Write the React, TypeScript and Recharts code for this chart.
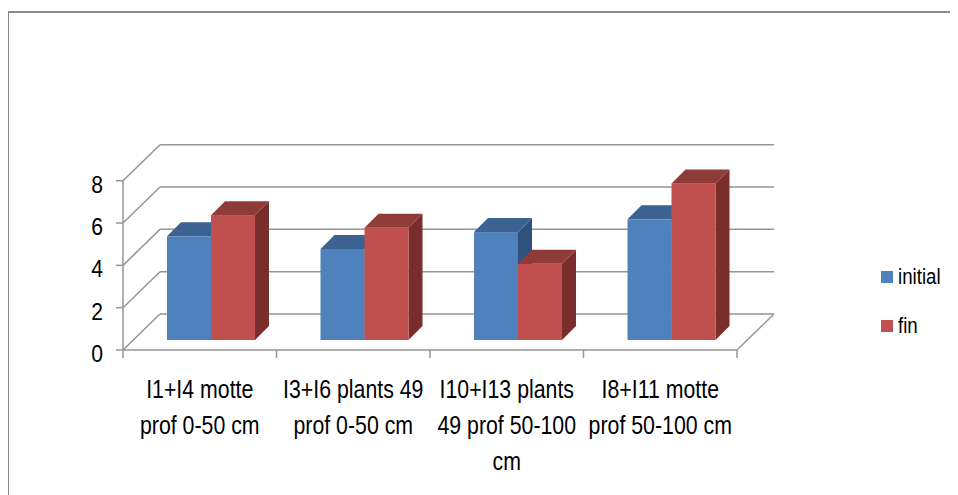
import React from 'react';
import { BarChart, Bar, XAxis, YAxis, CartesianGrid } from 'recharts';

const categories = [
  'I1+I4 motte prof 0-50 cm',
  'I3+I6 plants 49 prof 0-50 cm',
  'I10+I13 plants 49 prof 50-100 cm',
  'I8+I11 motte prof 50-100 cm',
];
const initialValues = [4.9, 4.3, 5.1, 5.7];
const finValues = [5.9, 5.3, 3.6, 7.4];
const yTicks = [0, 2, 4, 6, 8];
const seriesNames = ['initial', 'fin'];

const data = categories.map((name, i) => ({ name, initial: initialValues[i], fin: finValues[i] }));

// no narrow face installed, so the regular one is squeezed horizontally
const FONT = '"Liberation Sans", Arial, sans-serif';
const NARROW = 0.82;
const GRID = '#959595';

// chart box; the plot area is the front plane of the 3d box
const W = 950;
const H = 487;
const Y_AXIS_W = 60;
const X_AXIS_H = 120;
const MARGIN = { top: 172.7, right: 221, bottom: 25, left: 55 };
const PLOT_LEFT = MARGIN.left + Y_AXIS_W;
const PLOT_W = W - MARGIN.right - PLOT_LEFT;
const PLOT_BOTTOM = H - MARGIN.bottom - X_AXIS_H;
const PLOT_H = PLOT_BOTTOM - MARGIN.top;
const Y_MAX = yTicks[yTicks.length - 1];

// depth of the walls / floor, and where the bars sit inside the box
const WALL_DX = 37;
const WALL_DY = 36;
const BAR_DX = 11;
const BAR_DY = 10;
const BAR_DEPTH = 14;

const BLUE = { front: '#4F81BD', top: '#3C6291', side: '#30527C' };
const RED = { front: '#C0504D', top: '#8F3B38', side: '#7A2E2C' };
const seriesColors = [BLUE, RED];

// y position of a value on the front plane, via the axis scale when available
const toY = (yAxis: any, v: number) => {
  const sc = yAxis?.scale;
  if (typeof sc === 'function') return sc(v);
  if (sc && typeof sc.map === 'function') return sc.map(v);
  return PLOT_BOTTOM - (v / Y_MAX) * PLOT_H;
};

let measureCtx: CanvasRenderingContext2D | null = null;
const textWidth = (s: string, font: string) => {
  if (!measureCtx) measureCtx = document.createElement('canvas').getContext('2d');
  if (!measureCtx) return s.length * 10;
  measureCtx.font = font;
  return measureCtx.measureText(s).width * NARROW;
};

// greedy word wrap for the category labels
const wrapLabel = (label: string, maxW: number, font: string) => {
  const lines: string[] = [];
  let cur = '';
  label.split(' ').forEach((w) => {
    const next = cur ? `${cur} ${w}` : w;
    if (cur && textWidth(next, font) > maxW) {
      lines.push(cur);
      cur = w;
    } else {
      cur = next;
    }
  });
  if (cur) lines.push(cur);
  return lines;
};

const bar3d = (c: { front: string; top: string; side: string }) => (props: any) => {
  const { x, y, width, height } = props;
  const x0 = x + BAR_DX;
  const y0 = y - BAR_DY;
  const yb = y0 + height;
  const d = BAR_DEPTH;
  return (
    <g>
      <polygon
        points={`${x0 + width},${y0} ${x0 + width + d},${y0 - d} ${x0 + width + d},${yb - d} ${x0 + width},${yb}`}
        fill={c.side}
      />
      <rect x={x0} y={y0} width={width} height={height} fill={c.front} />
      <polygon
        points={`${x0},${y0} ${x0 + d},${y0 - d} ${x0 + width + d},${y0 - d} ${x0 + width},${y0}`}
        fill={c.top}
      />
    </g>
  );
};

// value label plus the diagonal running up the left wall
const YTick = (props: any) => {
  const { y, payload } = props;
  return (
    <g>
      <line x1={PLOT_LEFT} y1={y} x2={PLOT_LEFT + WALL_DX} y2={y - WALL_DY} stroke={GRID} strokeWidth={1.5} />
      <text
        transform={`translate(${PLOT_LEFT - 20} ${y + 4}) scale(0.88 1)`}
        textAnchor="end"
        dominantBaseline="central"
        style={{ fontFamily: FONT, fontSize: 24 }}
        fill="#000"
      >
        {payload.value}
      </text>
    </g>
  );
};

// category label, tick marks on the band edges and the right floor edge
const XTick = (props: any) => {
  const { x, payload, index } = props;
  const band = PLOT_W / categories.length;
  const left = x - band / 2;
  const right = x + band / 2;
  const last = index === categories.length - 1;
  const lines = wrapLabel(String(payload.value), 146, `26px ${FONT}`);
  return (
    <g>
      <line x1={left} y1={PLOT_BOTTOM} x2={left} y2={PLOT_BOTTOM + 8} stroke={GRID} strokeWidth={1.5} />
      {last && (
        <>
          <line x1={right} y1={PLOT_BOTTOM} x2={right} y2={PLOT_BOTTOM + 8} stroke={GRID} strokeWidth={1.5} />
          <line
            x1={right}
            y1={PLOT_BOTTOM}
            x2={right + WALL_DX}
            y2={PLOT_BOTTOM - WALL_DY}
            stroke={GRID}
            strokeWidth={1.5}
          />
        </>
      )}
      <text
        transform={`translate(${x} ${PLOT_BOTTOM + 48}) scale(${NARROW} 1)`}
        textAnchor="middle"
        style={{ fontFamily: FONT, fontSize: 26 }}
        fill="#000"
      >
        {lines.map((l, i) => (
          <tspan key={i} x={0} dy={i === 0 ? 0 : 36}>
            {l}
          </tspan>
        ))}
      </text>
    </g>
  );
};

const LegendBox = () => (
  <div style={{ position: 'absolute', left: 873, top: 263, fontFamily: FONT, fontSize: 22, color: '#000' }}>
    {seriesNames.map((name, i) => (
      <div key={name} style={{ display: 'flex', alignItems: 'center', height: 12, marginBottom: 37 }}>
        <span
          style={{ width: 12, height: 12, background: seriesColors[i].front, marginRight: 5, display: 'inline-block' }}
        />
        <span style={{ lineHeight: '12px', transform: 'scaleX(0.85)', transformOrigin: 'left center' }}>{name}</span>
      </div>
    ))}
  </div>
);

export default function App() {
  return (
    <div style={{ position: 'relative', width: W, height: H }}>
      <div
        style={{
          position: 'absolute',
          top: 3,
          left: -1,
          width: W + 1,
          height: H - 3,
          borderTop: '2px solid #8a8a8a',
          borderLeft: '2px solid #8a8a8a',
          boxSizing: 'border-box',
        }}
      />
      <BarChart width={W} height={H} data={data} margin={MARGIN} barGap={0} barSize={44}>
        <CartesianGrid
          vertical={false}
          x={PLOT_LEFT + WALL_DX}
          width={PLOT_W}
          stroke={GRID}
          strokeWidth={1.5}
          horizontalCoordinatesGenerator={({ yAxis }: any) => yTicks.map((v) => toY(yAxis, v) - WALL_DY)}
        />
        <XAxis
          dataKey="name"
          height={X_AXIS_H}
          interval={0}
          axisLine={{ stroke: GRID, strokeWidth: 1.5 }}
          tickLine={false}
          tick={<XTick />}
        />
        <YAxis
          width={Y_AXIS_W}
          domain={[0, Y_MAX]}
          ticks={yTicks}
          interval={0}
          axisLine={{ stroke: GRID, strokeWidth: 1.5 }}
          tickLine={{ stroke: GRID, strokeWidth: 1.5 }}
          tickSize={7}
          tick={<YTick />}
        />
        <Bar dataKey="initial" name={seriesNames[0]} fill={BLUE.front} shape={bar3d(BLUE)} isAnimationActive={false} />
        <Bar dataKey="fin" name={seriesNames[1]} fill={RED.front} shape={bar3d(RED)} isAnimationActive={false} />
      </BarChart>
      <LegendBox />
    </div>
  );
}
